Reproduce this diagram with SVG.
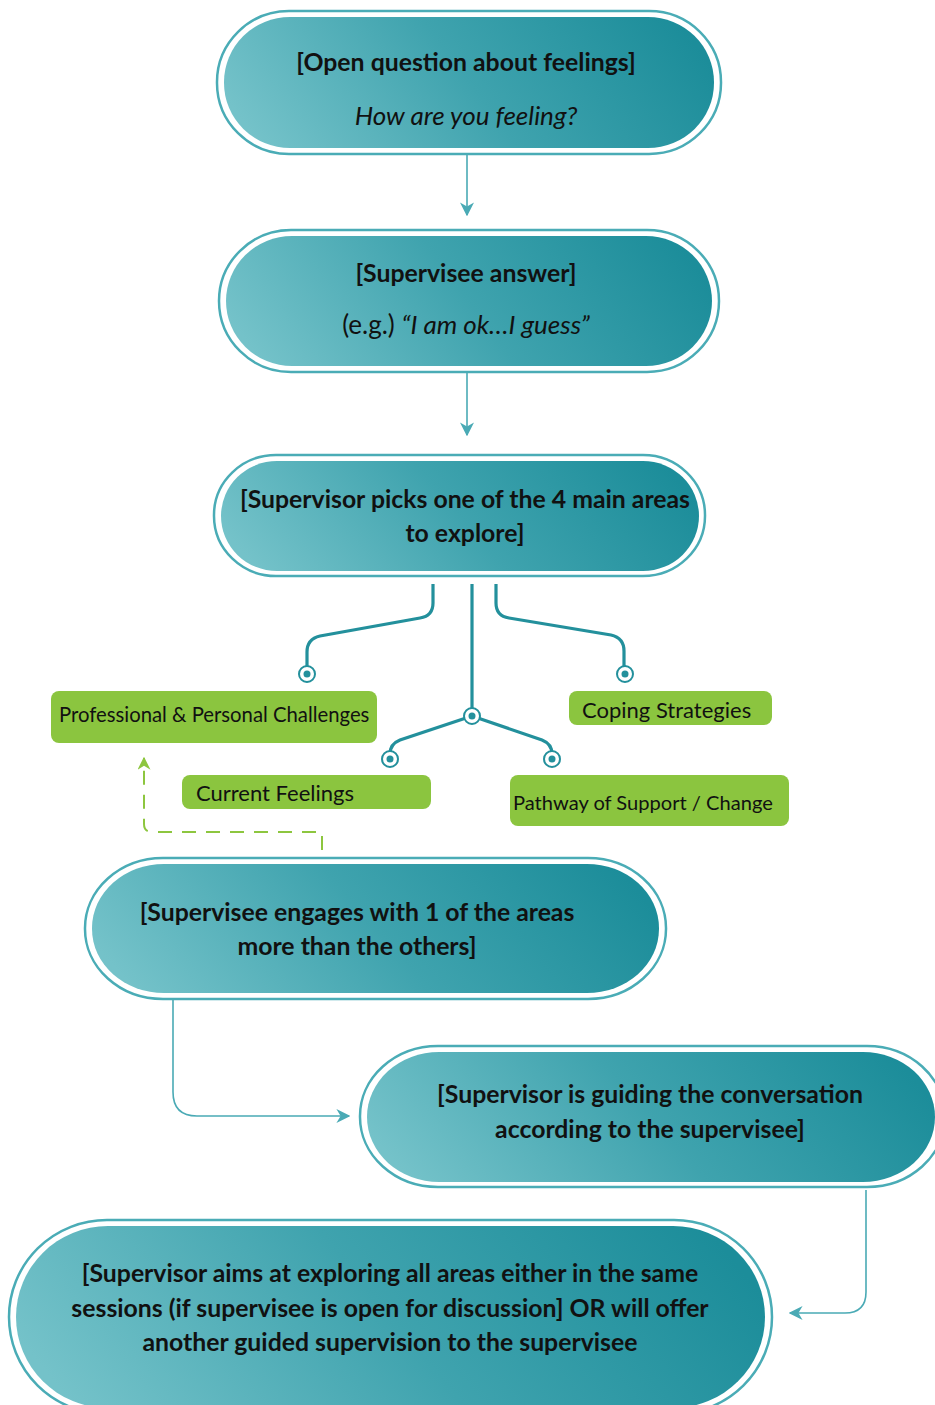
<svg xmlns="http://www.w3.org/2000/svg" width="935" height="1405" viewBox="0 0 935 1405">
<defs>
<linearGradient id="tealGrad" x1="0" y1="0.6" x2="1" y2="0.4">
<stop offset="0" stop-color="#74c2c9"/>
<stop offset="0.5" stop-color="#3fa3ae"/>
<stop offset="1" stop-color="#1c8d9a"/>
</linearGradient>
<marker id="arrTeal" viewBox="0 0 10 10" refX="9" refY="5" markerWidth="14" markerHeight="14" markerUnits="userSpaceOnUse" orient="auto">
<path d="M0,0 L10,5 L0,10 L3,5 z" fill="#4aaab5"/>
</marker>
<marker id="arrGreen" viewBox="0 0 10 10" refX="9" refY="5" markerWidth="13" markerHeight="13" markerUnits="userSpaceOnUse" orient="auto">
<path d="M0,0 L10,5 L0,10 L3,5 z" fill="#8dc63f"/>
</marker>
<style>
.outer{fill:#ffffff;stroke:#4aacb6;stroke-width:2.5}
.inner{fill:url(#tealGrad)}
.t{font-family:Lato,"Liberation Sans",sans-serif;fill:#111;text-anchor:middle}
.b{font-weight:bold;font-size:24.8px}
.i{font-style:italic;font-size:26px}
.g{fill:#8bc53f}
.gt{font-family:Lato,"Liberation Sans",sans-serif;fill:#111;font-size:20.3px}
.conn{fill:none;stroke:#4aaab5;stroke-width:1.6}
.tree{fill:none;stroke:#23909c;stroke-width:3.2}
.ring{fill:#fff;stroke:#23909c;stroke-width:2}
.dot{fill:#23909c}
.dash{fill:none;stroke:#8dc63f;stroke-width:2;stroke-dasharray:14 10}
</style>
</defs>

<g id="connectors">
<path class="conn" d="M467,155 L467,215" marker-end="url(#arrTeal)"/>
<path class="conn" d="M467,373 L467,435" marker-end="url(#arrTeal)"/>
<path class="conn" d="M173,1000 L173,1092 Q173,1116 197,1116 L349,1116" marker-end="url(#arrTeal)"/>
<path class="conn" d="M866,1190 L866,1292 Q866,1313 845,1313 L790,1313" marker-end="url(#arrTeal)"/>
<path class="dash" d="M322,850 L322,832 L152,832 Q144,832 144,824 L144,758" marker-end="url(#arrGreen)"/>
<g id="tree">
<path class="tree" d="M433,584 L433,603 Q433,616 420,618 L320,636 Q307,639 307,652 L307,668"/>
<path class="tree" d="M496,584 L496,603 Q496,616 509,618 L611,635 Q624,638 624,651 L624,668"/>
<path class="tree" d="M472,584 L472,716"/>
<path class="tree" d="M472,716 L400,740 Q390,744 390,754"/>
<path class="tree" d="M472,716 L542,740 Q552,744 552,754"/>
<circle class="ring" cx="307" cy="674" r="8"/><circle class="dot" cx="307" cy="674" r="3.5"/>
<circle class="ring" cx="625" cy="674" r="8"/><circle class="dot" cx="625" cy="674" r="3.5"/>
<circle class="ring" cx="472" cy="716" r="8"/><circle class="dot" cx="472" cy="716" r="3.5"/>
<circle class="ring" cx="390" cy="759" r="8"/><circle class="dot" cx="390" cy="759" r="3.5"/>
<circle class="ring" cx="552" cy="759" r="8"/><circle class="dot" cx="552" cy="759" r="3.5"/>
</g>
</g>

<g id="node-open-question">
<rect class="outer" x="217" y="11" width="504" height="143" rx="72" ry="71"/>
<rect class="inner" x="224" y="17" width="490" height="131" rx="66" ry="65"/>
<text class="t b" x="466" y="71">[Open question about feelings]</text>
<text class="t i" x="466" y="125">How are you feeling?</text>
</g>

<g id="node-answer">
<rect class="outer" x="219" y="230" width="500" height="142" rx="72" ry="71"/>
<rect class="inner" x="226" y="236" width="486" height="130" rx="66" ry="65"/>
<text class="t b" x="466" y="282">[Supervisee answer]</text>
<text class="t" x="466" y="334" style="font-size:26px">(e.g.) <tspan font-style="italic">“I am ok…I guess”</tspan></text>
</g>

<g id="node-picks">
<rect class="outer" x="214" y="455" width="491" height="121" rx="62" ry="60"/>
<rect class="inner" x="221" y="461" width="478" height="110" rx="56" ry="55"/>
<text class="t b" x="465" y="508">[Supervisor picks one of the 4 main areas</text>
<text class="t b" x="465" y="542">to explore]</text>
</g>

<g id="area-professional">
<rect class="g" x="51" y="691" width="326" height="52" rx="8"/>
<text class="gt" x="59" y="722">Professional &amp; Personal Challenges</text>
</g>
<g id="area-coping">
<rect class="g" x="569" y="691" width="203" height="34" rx="8"/>
<text class="gt" x="582" y="718" style="font-size:22px">Coping Strategies</text>
</g>
<g id="area-current">
<rect class="g" x="182" y="775" width="249" height="34" rx="8"/>
<text class="gt" x="196" y="801" style="font-size:22px">Current Feelings</text>
</g>
<g id="area-pathway">
<rect class="g" x="510" y="775" width="279" height="51" rx="8"/>
<text class="gt" x="513" y="810" style="font-size:20.1px">Pathway of Support / Change</text>
</g>

<g id="node-engages">
<rect class="outer" x="85" y="858" width="581" height="141" rx="78" ry="70"/>
<rect class="inner" x="92" y="864" width="567" height="129" rx="72" ry="64"/>
<text class="t b" x="357" y="921">[Supervisee engages with 1 of the areas</text>
<text class="t b" x="357" y="955">more than the others]</text>
</g>

<g id="node-guiding">
<rect class="outer" x="360" y="1046" width="585" height="141" rx="78" ry="70"/>
<rect class="inner" x="367" y="1052" width="568" height="130" rx="72" ry="65"/>
<text class="t b" x="650" y="1103">[Supervisor is guiding the conversation</text>
<text class="t b" x="650" y="1138">according to the supervisee]</text>
</g>

<g id="node-aims">
<rect class="outer" x="9" y="1220" width="763" height="194" rx="98" ry="97"/>
<rect class="inner" x="16" y="1226" width="749" height="182" rx="92" ry="91"/>
<text class="t b" x="390" y="1282">[Supervisor aims at exploring all areas either in the same</text>
<text class="t b" x="390" y="1317">sessions (if supervisee is open for discussion] OR will offer</text>
<text class="t b" x="390" y="1351">another guided supervision to the supervisee</text>
</g>
</svg>
